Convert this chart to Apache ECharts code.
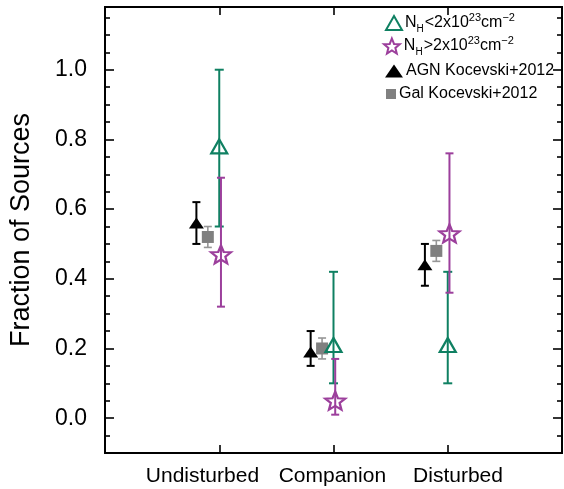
<!DOCTYPE html>
<html>
<head>
<meta charset="utf-8">
<script src="https://cdn.jsdelivr.net/npm/echarts@6/dist/echarts.min.js"></script>
<style>
  html, body { margin: 0; padding: 0; background: #fff; }
  #chart { width: 564px; height: 489px; }
</style>
</head>
<body>
<div id="chart"></div>
<script>
// Morphology classes along the x axis
const categories = ['Undisturbed', 'Companion', 'Disturbed'];

// Fraction of sources per class, with lower / upper error bounds
const lowNH   = [0.78, 0.21, 0.21];
const lowNHLo = [0.55, 0.10, 0.10];
const lowNHHi = [1.00, 0.42, 0.42];

const highNH   = [0.47, 0.05, 0.53];
const highNHLo = [0.32, 0.01, 0.36];
const highNHHi = [0.69, 0.17, 0.76];

const agnK12   = [0.56, 0.19, 0.44];
const agnK12Lo = [0.50, 0.15, 0.38];
const agnK12Hi = [0.62, 0.25, 0.50];

const galK12   = [0.52, 0.20, 0.48];
const galK12Lo = [0.49, 0.17, 0.45];
const galK12Hi = [0.55, 0.23, 0.51];

// Axis ticks
const yMajorTicks = [0.0, 0.2, 0.4, 0.6, 0.8, 1.0];
const yMinorTicks = [-0.05, 0.05, 0.1, 0.15, 0.25, 0.3, 0.35, 0.45, 0.5, 0.55,
                     0.65, 0.7, 0.75, 0.85, 0.9, 0.95, 1.05, 1.1, 1.15];
const xTicks = [1, 2, 3];

// ---- styling / layout constants ----
const FONT = 'Liberation Sans';
const GREEN = '#0f8062';
const PURPLE = '#9c3f9c';
const BLACK = '#000000';
const GREY = '#808080';
const GREY_ERR = '#969696';
const STAR = 'path://M0,-10 L2.6,-3.4 L9.5,-3.1 L4.2,1.3 L5.9,8.1 L0,4.3 L-5.9,8.1 L-4.2,1.3 L-9.5,-3.1 L-2.6,-3.4 Z';
const X_LABEL_POS = [0.853, 1.99, 3.09];   // label anchors along x

// horizontal shift of each sample within a class
const OFF = { agn: -0.2, gal: -0.1, low: 0.0, high: 0.015 };

function points(vals, off) {
  return vals.map((v, i) => [i + 1 + off, v]);
}
function bars(lo, hi, off) {
  return lo.map((l, i) => [i + 1 + off, l, hi[i]]);
}
function errorBar(color, width, capHalf) {
  return function (params, api) {
    const x = api.value(0);
    const a = api.coord([x, api.value(1)]);
    const b = api.coord([x, api.value(2)]);
    const st = { stroke: color, lineWidth: width };
    return {
      type: 'group',
      children: [
        { type: 'line', shape: { x1: a[0], y1: a[1], x2: b[0], y2: b[1] }, style: st },
        { type: 'line', shape: { x1: a[0] - capHalf, y1: a[1], x2: a[0] + capHalf, y2: a[1] }, style: st },
        { type: 'line', shape: { x1: b[0] - capHalf, y1: b[1], x2: b[0] + capHalf, y2: b[1] }, style: st }
      ]
    };
  };
}

const Y_MIN = -0.1, Y_MAX = 1.18;

function yAxisDef(pos, ticks, len, showLabel) {
  return {
    type: 'value', position: pos, min: Y_MIN, max: Y_MAX,
    axisLine: { show: true, onZero: false, lineStyle: { color: '#000', width: 2 } },
    axisTick: { show: true, inside: true, length: len, customValues: ticks,
                lineStyle: { color: '#000', width: 1.6 } },
    axisLabel: showLabel ? {
      show: true, customValues: yMajorTicks, margin: 18,
      formatter: v => v.toFixed(1),
      fontFamily: FONT, fontSize: 23, color: '#000'
    } : { show: false },
    splitLine: { show: false }
  };
}

const richNH = {
  n:   { fontFamily: FONT, fontSize: 16, color: '#000', lineHeight: 22, verticalAlign: 'middle' },
  sub: { fontFamily: FONT, fontSize: 10, color: '#000', verticalAlign: 'bottom', padding: [0, 1, 0, 0] },
  sup: { fontFamily: FONT, fontSize: 11, color: '#000', verticalAlign: 'top' }
};
const legendLabels = {
  'NH < 2e23': '{n|N}{sub|H}{n|<2x10}{sup|23}{n|cm}{sup|\u22122}',
  'NH > 2e23': '{n|N}{sub|H}{n|>2x10}{sup|23}{n|cm}{sup|\u22122}'
};

function legendDef(name, left, top, w, h, icon, itemStyle) {
  return {
    show: true, orient: 'vertical', left: left, top: top, padding: 0,
    itemWidth: w, itemHeight: h, itemGap: 0,
    data: [{ name: name, icon: icon, itemStyle: itemStyle }],
    formatter: n => legendLabels[n] || n,
    textStyle: { fontFamily: FONT, fontSize: 16, color: '#000', rich: richNH, padding: [0, 0, 0, -2] }
  };
}

const option = {
  animation: false,
  backgroundColor: '#fff',
  grid: { left: 105, right: 2, top: 7, bottom: 36 },
  legend: [
    legendDef('NH < 2e23', 385, 12, 16, 14, 'triangle',
              { color: 'rgba(0,0,0,0)', borderColor: GREEN, borderWidth: 2 }),
    legendDef('NH > 2e23', 383, 35, 18, 15, STAR,
              { color: 'rgba(0,0,0,0)', borderColor: PURPLE, borderWidth: 2 }),
    legendDef('AGN Kocevski+2012', 385, 63, 18, 13, 'triangle', { color: BLACK }),
    legendDef('Gal Kocevski+2012', 386, 86, 10, 10, 'rect', { color: GREY })
  ],
  xAxis: [
    {
      type: 'value', position: 'bottom', min: 0, max: 4,
      axisLine: { show: true, onZero: false, lineStyle: { color: '#000', width: 2 } },
      axisTick: { show: true, inside: true, length: 8, customValues: xTicks,
                  lineStyle: { color: '#000', width: 1.6 } },
      axisLabel: {
        show: true, customValues: X_LABEL_POS, margin: 13,
        formatter: function (v) {
          let best = 0;
          X_LABEL_POS.forEach((p, i) => { if (Math.abs(p - v) < Math.abs(X_LABEL_POS[best] - v)) best = i; });
          return categories[best];
        },
        fontFamily: FONT, fontSize: 21, color: '#000'
      },
      splitLine: { show: false }
    },
    {
      type: 'value', position: 'top', min: 0, max: 4,
      axisLine: { show: true, onZero: false, lineStyle: { color: '#000', width: 2 } },
      axisTick: { show: true, inside: true, length: 8, customValues: xTicks,
                  lineStyle: { color: '#000', width: 1.6 } },
      axisLabel: { show: false },
      splitLine: { show: false }
    }
  ],
  yAxis: [
    Object.assign(yAxisDef('left', yMajorTicks, 9, true), {
      name: 'Fraction of Sources', nameLocation: 'middle', nameGap: 70,
      nameTextStyle: { fontFamily: FONT, fontSize: 27, color: '#000' }
    }),
    yAxisDef('left', yMinorTicks, 5, false),
    yAxisDef('right', yMajorTicks, 9, false),
    yAxisDef('right', yMinorTicks, 5, false)
  ],
  series: [
    // error bars
    { type: 'custom', name: 'AGN Kocevski+2012', xAxisIndex: 0, yAxisIndex: 0, z: 2,
      renderItem: errorBar(BLACK, 2, 4), data: bars(agnK12Lo, agnK12Hi, OFF.agn),
      encode: { x: 0, y: [1, 2] } },
    { type: 'custom', name: 'Gal Kocevski+2012', xAxisIndex: 0, yAxisIndex: 0, z: 2,
      renderItem: errorBar(GREY_ERR, 1.6, 4), data: bars(galK12Lo, galK12Hi, OFF.gal),
      encode: { x: 0, y: [1, 2] } },
    { type: 'custom', name: 'NH < 2e23', xAxisIndex: 0, yAxisIndex: 0, z: 2,
      renderItem: errorBar(GREEN, 2, 4.5), data: bars(lowNHLo, lowNHHi, OFF.low),
      encode: { x: 0, y: [1, 2] } },
    { type: 'custom', name: 'NH > 2e23', xAxisIndex: 0, yAxisIndex: 0, z: 2,
      renderItem: errorBar(PURPLE, 2, 4), data: bars(highNHLo, highNHHi, OFF.high),
      encode: { x: 0, y: [1, 2] } },
    // markers
    { type: 'scatter', name: 'AGN Kocevski+2012', z: 3, symbol: 'triangle', symbolSize: [15, 11],
      itemStyle: { color: BLACK, opacity: 1 }, data: points(agnK12, OFF.agn) },
    { type: 'scatter', name: 'Gal Kocevski+2012', z: 3, symbol: 'rect', symbolSize: [12, 12],
      itemStyle: { color: GREY, opacity: 1 }, data: points(galK12, OFF.gal) },
    { type: 'scatter', name: 'NH < 2e23', z: 3, symbol: 'triangle', symbolSize: [16, 14],
      itemStyle: { color: 'rgba(0,0,0,0)', borderColor: GREEN, borderWidth: 2.2, opacity: 1 },
      data: points(lowNH, OFF.low) },
    { type: 'scatter', name: 'NH > 2e23', z: 3, symbol: STAR, symbolSize: [20, 18],
      itemStyle: { color: 'rgba(0,0,0,0)', borderColor: PURPLE, borderWidth: 2.2, opacity: 1 },
      data: points(highNH, OFF.high) }
  ]
};

const chart = echarts.init(document.getElementById('chart'), null, { renderer: 'canvas' });
chart.setOption(option);
</script>
</body>
</html>
